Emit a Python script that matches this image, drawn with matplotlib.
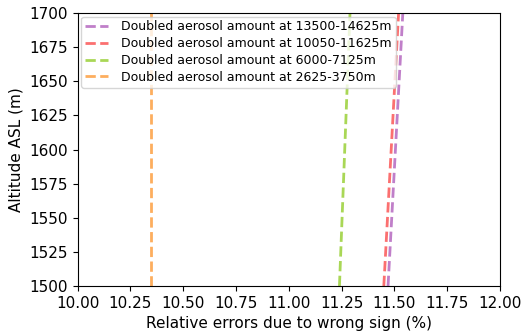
import matplotlib
matplotlib.use("Agg")
import matplotlib.pyplot as plt

plt.rcParams["font.size"] = 11

altitude = [1500, 1700]
err_13500 = [11.47, 11.54]
err_10050 = [11.45, 11.52]
err_6000 = [11.24, 11.29]
err_2625 = [10.35, 10.35]

labels = ["Doubled aerosol amount at 13500-14625m",
          "Doubled aerosol amount at 10050-11625m",
          "Doubled aerosol amount at 6000-7125m",
          "Doubled aerosol amount at 2625-3750m"]
colors = ["#c07fc9", "#fb7070", "#a9d756", "#fdae5e"]
xticks = [10.0, 10.25, 10.5, 10.75, 11.0, 11.25, 11.5, 11.75, 12.0]

fig = plt.figure(figsize=(5.21, 3.35), dpi=100)
ax = fig.add_axes([77.5/521, 49/335, 422.5/521, 273/335])
for x, lab, c in zip([err_13500, err_10050, err_6000, err_2625], labels, colors):
    ax.plot(x, altitude, linestyle="--", color=c, linewidth=2, label=lab)
ax.set_xlim(10, 12)
ax.set_ylim(1500, 1700)
ax.set_xticks(xticks)
ax.set_xticklabels([f"{v:.2f}" for v in xticks])
ax.set_yticks(range(1500, 1701, 25))
ax.set_xlabel("Relative errors due to wrong sign (%)")
ax.set_ylabel("Altitude ASL (m)")
ax.legend(loc="upper left", fontsize=9, handlelength=1.8, handletextpad=1.1,
          borderpad=0.3, labelspacing=0.3, borderaxespad=0.3)
fig.savefig("out.png", dpi=100)
